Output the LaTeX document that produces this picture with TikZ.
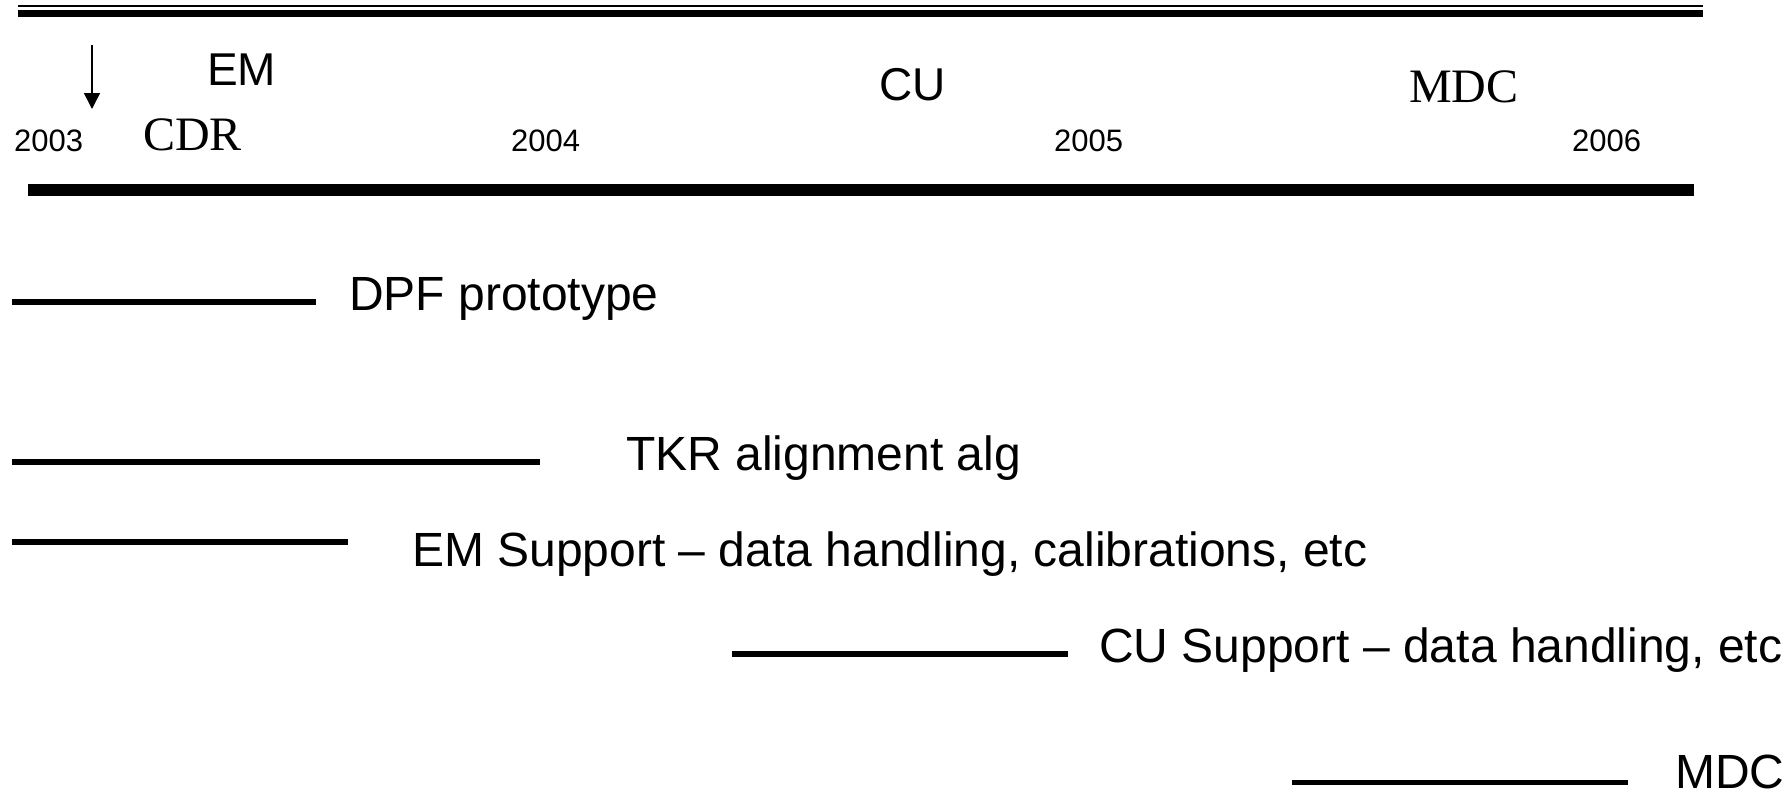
\documentclass[tikz,border=0pt]{standalone}
\usepackage{fontspec}
\setmainfont{Liberation Sans}
\newfontfamily\seriffont{Liberation Serif}
\usetikzlibrary{arrows.meta}
\begin{document}
\begin{tikzpicture}[x=1pt,y=-1pt,
  lbl/.style={inner sep=0pt, anchor=base west, font=\fontsize{48}{50}\selectfont},
  mile/.style={inner sep=0pt, anchor=base west, font=\fontsize{46}{48}\selectfont},
  yr/.style={inner sep=0pt, anchor=base west, font=\fontsize{31}{33}\selectfont},
  ser/.style={inner sep=0pt, anchor=base west, font=\seriffont\fontsize{48}{50}\selectfont},
  taskbar/.style={line width=5.7pt, line cap=butt},
]
\useasboundingbox (0,0) rectangle (1791,798);
% top double rule
\coordinate (t1a) at (18,6.2);  \coordinate (t1b) at (1703,6.2);
\coordinate (t2a) at (18,13.3); \coordinate (t2b) at (1703,13.3);
\draw[line width=2.3pt] (t1a) -- (t1b);
\draw[line width=6.7pt] (t2a) -- (t2b);
% main time axis bar
\coordinate (axA) at (28,190); \coordinate (axB) at (1694,190);
\draw[line width=12pt] (axA) -- (axB);
% arrow
\coordinate (arA) at (92,45); \coordinate (arB) at (92,109);
\draw[line width=1.5pt, -{Triangle[length=16pt,width=16pt]}] (arA) -- (arB);
% milestones
\node[mile] (em) at (207,85) {EM};
\node[ser] (cdr) at (143,150) {CDR};
\node[mile] (cu) at (879,100) {CU};
\node[ser] (mdctop) at (1409,102) {MDC};
% years
\node[yr] (y2003) at (14,151) {2003};
\node[yr] (y2004) at (511,151) {2004};
\node[yr] (y2005) at (1054,151) {2005};
\node[yr] (y2006) at (1572,151) {2006};
% tasks
\coordinate (d1) at (12,301.8); \coordinate (d2) at (316,301.8);
\draw[taskbar] (d1) -- (d2);
\node[lbl] (dpf) at (349,310) {DPF prototype};
\coordinate (k1) at (12,461.7); \coordinate (k2) at (540,461.7);
\draw[taskbar] (k1) -- (k2);
\node[lbl] (tkr) at (626,470) {TKR alignment alg};
\coordinate (e1) at (12,541.7); \coordinate (e2) at (348,541.7);
\draw[taskbar] (e1) -- (e2);
\node[lbl] (ems) at (412,566) {EM Support -- data handling, calibrations, etc};
\coordinate (c1) at (732,653.7); \coordinate (c2) at (1068,653.7);
\draw[taskbar] (c1) -- (c2);
\node[lbl] (cus) at (1099,662) {CU Support -- data handling, etc};
\coordinate (m1) at (1292,782.5); \coordinate (m2) at (1628,782.5);
\draw[taskbar] (m1) -- (m2);
\node[lbl] (mdc) at (1675,788) {MDC};
\end{tikzpicture}
\end{document}
